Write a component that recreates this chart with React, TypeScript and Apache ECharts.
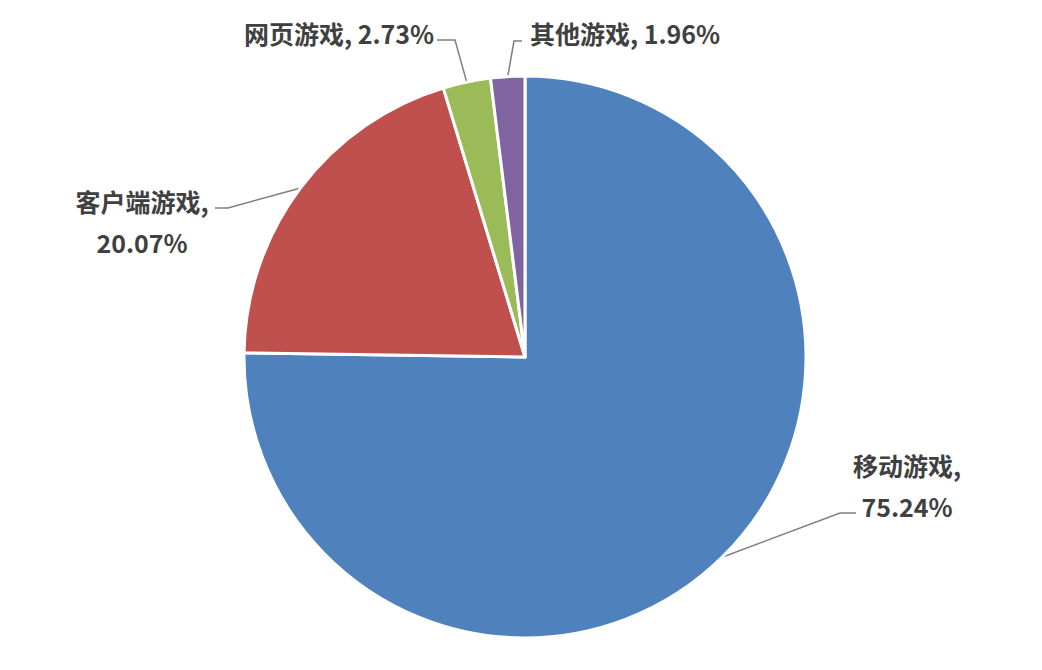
import React, { useEffect, useRef } from "react";
import * as echarts from "echarts";

const categories = ["移动游戏", "客户端游戏", "网页游戏", "其他游戏"];
const shares = [75.24, 20.07, 2.73, 1.96];
const colors = ["#4F81BD", "#C0504D", "#9BBB59", "#8064A2"];
const twoLine = [true, true, false, false];

// label placement: [labelX, labelY, elbowX, elbowY, endX]
const labelPlaces: number[][] = [
  [907, 485, 840, 513, 856],
  [142, 221, 228, 208, 215],
  [339, 33, 455, 40, 437],
  [625, 33, 514, 41, 522],
];

export default function App() {
  const ref = useRef<HTMLDivElement>(null);
  useEffect(() => {
    document.body.style.margin = "0";
    const chart = echarts.init(ref.current!, undefined, { renderer: "svg" });
    chart.setOption({
      animation: false,
      backgroundColor: "#ffffff",
      series: [
        {
          type: "pie",
          center: [525, 357],
          radius: 281,
          startAngle: 90,
          clockwise: true,
          avoidLabelOverlap: false,
          itemStyle: { borderColor: "#ffffff", borderWidth: 3 },
          label: {
            show: true,
            position: "outside",
            fontFamily: "'Noto Sans CJK SC', sans-serif",
            fontWeight: "bold",
            fontSize: 25,
            color: "#404040",
            lineHeight: 41,
            align: "center",
            formatter: (p: any) =>
              twoLine[p.dataIndex]
                ? `${p.name},\n${p.value.toFixed(2)}%`
                : `${p.name}, ${p.value.toFixed(2)}%`,
          },
          labelLine: {
            show: true,
            lineStyle: { color: "#7f7f7f", width: 1.5 },
          },
          labelLayout: (params: any) => {
            const pl = labelPlaces[params.dataIndex];
            const start = params.labelLinePoints
              ? params.labelLinePoints[0]
              : [pl[2], pl[3]];
            return {
              x: pl[0],
              y: pl[1],
              align: "center",
              verticalAlign: "middle",
              labelLinePoints: [start, [pl[2], pl[3]], [pl[4], pl[3]]],
            };
          },
          data: categories.map((c, i) => ({
            name: c,
            value: shares[i],
            itemStyle: { color: colors[i] },
          })),
        },
      ],
    });
    return () => chart.dispose();
  }, []);
  return <div ref={ref} style={{ width: 1042, height: 670 }} />;
}
